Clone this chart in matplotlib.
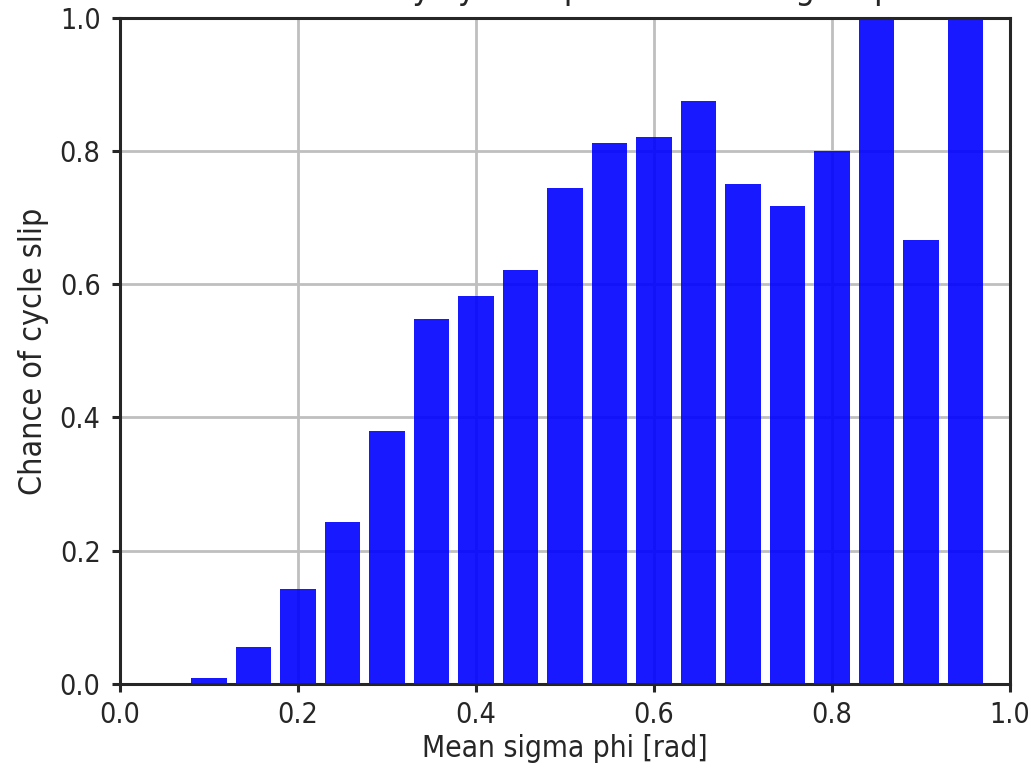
import matplotlib
matplotlib.use("Agg")
import matplotlib.pyplot as plt

# Data
sigma_phi_centers = [0.10, 0.15, 0.20, 0.25, 0.30, 0.35, 0.40, 0.45, 0.50,
                     0.55, 0.60, 0.65, 0.70, 0.75, 0.80, 0.85, 0.90, 0.95]
slip_chance = [0.009, 0.055, 0.142, 0.243, 0.379, 0.548, 0.582, 0.622, 0.744,
               0.812, 0.821, 0.875, 0.751, 0.718, 0.800, 1.000, 0.667, 1.000]
x_ticks = [0.0, 0.2, 0.4, 0.6, 0.8, 1.0]
y_ticks = [0.0, 0.2, 0.4, 0.6, 0.8, 1.0]

plt.rcParams['font.family'] = ['DejaVu Sans']
plt.rcParams['font.stretch'] = 'condensed'
dark = '#262626'

fig = plt.figure(figsize=(10.31, 7.81), dpi=100)
ax = fig.add_axes([0.1164, 0.1242, 0.8632, 0.8531])

ax.bar(sigma_phi_centers, slip_chance, width=0.04, color='blue', alpha=0.9, zorder=2)

ax.set_xlim(0, 1.0)
ax.set_ylim(0, 1.0)
ax.set_xticks(x_ticks)
ax.set_yticks(y_ticks)
ax.set_xticklabels([f"{v:.1f}" for v in x_ticks])
ax.set_yticklabels([f"{v:.1f}" for v in y_ticks])
ax.grid(True, color='#bfbfbf', linewidth=2.0, zorder=0)
ax.set_axisbelow(True)

for s in ax.spines.values():
    s.set_color(dark)
    s.set_linewidth(2.2)
    s.set_zorder(3)

ax.tick_params(axis='both', direction='out', length=6, width=2.2, color=dark,
               labelsize=20.5, labelcolor=dark)
ax.tick_params(axis='y', pad=8)
ax.tick_params(axis='x', pad=6)

ax.set_xlabel('Mean sigma phi [rad]', fontsize=21.5, color=dark, labelpad=4)
ax.set_ylabel('Chance of cycle slip', fontsize=23, color=dark, labelpad=8)

# Title is cut off at the top edge in the reference; only descenders show
fig.text(0.548, 1.0 + 1.0 / 781, 'Fraction hit by cycle slip over mean sigma phi',
         ha='center', va='baseline', fontsize=24.8, color=dark)

fig.savefig('out.png', dpi=100)
